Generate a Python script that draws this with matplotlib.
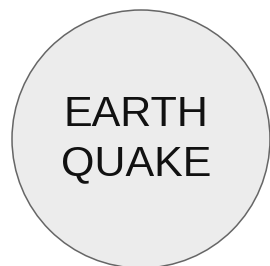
import matplotlib
matplotlib.use("Agg")
import matplotlib.pyplot as plt
from matplotlib.patches import Circle

# node geometry in pixel units (y grows downward)
center = (141, 139)
radius = 129
label_lines = ["EARTH", "QUAKE"]
line_y = [115, 164]

fig = plt.figure(figsize=(2.70, 2.66), dpi=100)
ax = fig.add_axes([0, 0, 1, 1])
ax.set_xlim(0, 270)
ax.set_ylim(266, 0)
ax.set_aspect("equal")
ax.axis("off")

ax.add_patch(Circle(center, radius, facecolor="#ececec",
                    edgecolor="#666666", linewidth=1.1))

for text, y in zip(label_lines, line_y):
    ax.text(center[0] - 5, y, text, ha="center", va="center",
            fontsize=31, family="Liberation Sans", color="#111111")

fig.savefig("out.png", dpi=100)
